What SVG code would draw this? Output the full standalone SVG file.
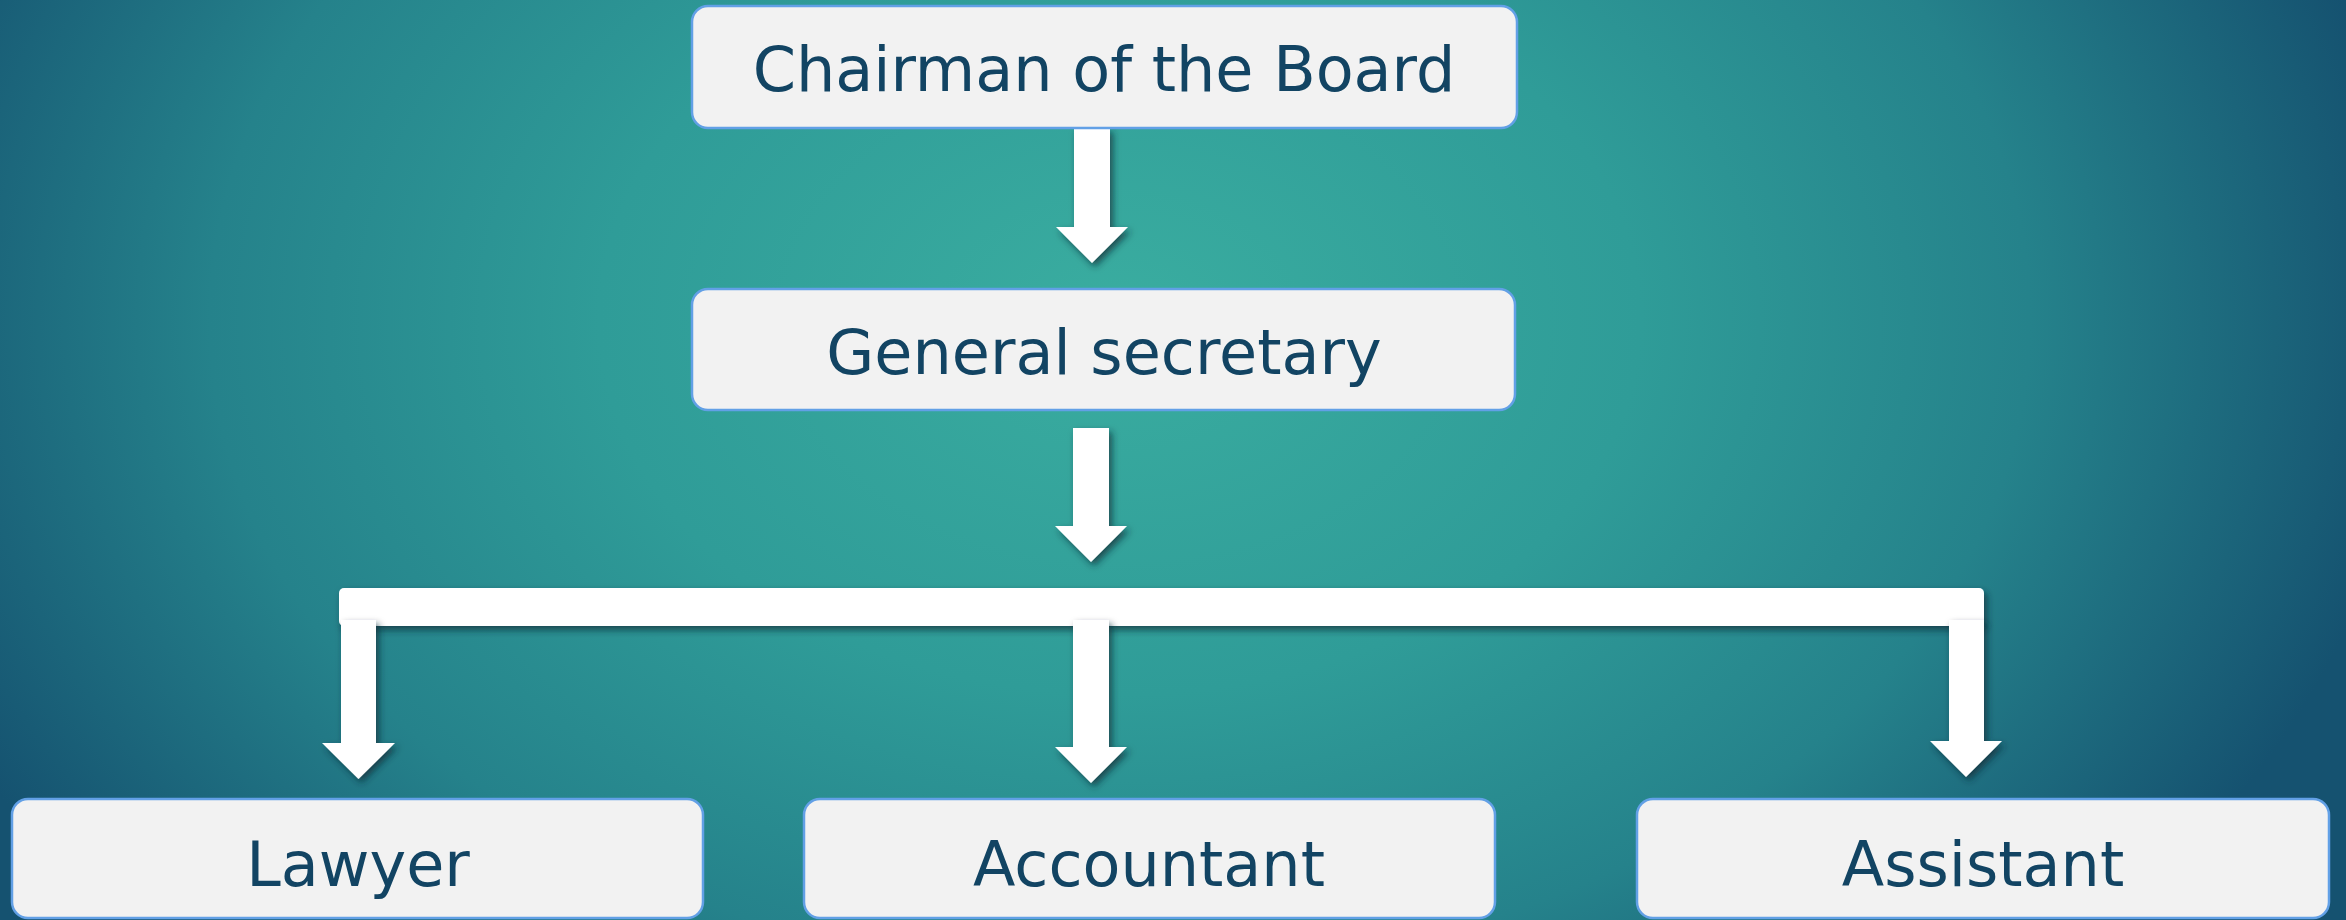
<svg xmlns="http://www.w3.org/2000/svg" width="2346" height="920" viewBox="0 0 2346 920">
  <defs>
    <radialGradient id="bg" gradientUnits="userSpaceOnUse" cx="1120" cy="320" r="1300" gradientTransform="translate(1120 320) scale(1 0.72) translate(-1120 -320)">
      <stop offset="0" stop-color="#3AADA0"/>
      <stop offset="0.4" stop-color="#2F9C98"/>
      <stop offset="0.7" stop-color="#25828B"/>
      <stop offset="1" stop-color="#155270"/>
    </radialGradient>
    <filter id="shadow" x="-30%" y="-30%" width="160%" height="160%">
      <feDropShadow dx="3" dy="4" stdDeviation="3.5" flood-color="#072530" flood-opacity="0.7"/>
    </filter>
    <style>
      .box { fill: #F2F2F2; stroke: #62A0E6; stroke-width: 2.5; }
      .label { font-family: "DejaVu Sans", "Liberation Sans", sans-serif; font-size: 62px; fill: #124463; text-anchor: middle; }
      .conn { fill: #FFFFFF; filter: url(#shadow); }
    </style>
  </defs>

  <!-- backdrop -->
  <rect x="0" y="0" width="2346" height="920" fill="url(#bg)"/>

  <!-- connectors -->
  <g id="connectors">
    <path class="conn" d="M1074 128 H1110 V227 H1128 L1092 263 L1056 227 H1074 Z"/>
    <path class="conn" d="M1073 428 H1109 V526 H1127 L1091 562 L1055 526 H1073 Z"/>
    <rect class="conn" x="339" y="588" width="1645" height="38" rx="5"/>
    <path class="conn" d="M341 620 H376 V743 H395 L358.5 779 L322 743 H341 Z"/>
    <path class="conn" d="M1073 620 H1109 V747 H1127 L1091 783 L1055 747 H1073 Z"/>
    <path class="conn" d="M1949 620 H1984 V741 H2002 L1966 777 L1930 741 H1949 Z"/>
  </g>

  <g id="chairman">
    <rect class="box" x="692" y="6" width="825" height="122" rx="16"/>
    <text class="label" x="1104" y="91">Chairman of the Board</text>
  </g>

  <g id="general-secretary">
    <rect class="box" x="692" y="289" width="823" height="121" rx="16"/>
    <text class="label" x="1104" y="374">General secretary</text>
  </g>

  <g id="lawyer">
    <rect class="box" x="12" y="799" width="691" height="119" rx="16"/>
    <text class="label" x="358" y="886">Lawyer</text>
  </g>

  <g id="accountant">
    <rect class="box" x="804" y="799" width="691" height="119" rx="16"/>
    <text class="label" x="1149" y="886">Accountant</text>
  </g>

  <g id="assistant">
    <rect class="box" x="1637" y="799" width="692" height="119" rx="16"/>
    <text class="label" x="1983" y="886">Assistant</text>
  </g>
</svg>
